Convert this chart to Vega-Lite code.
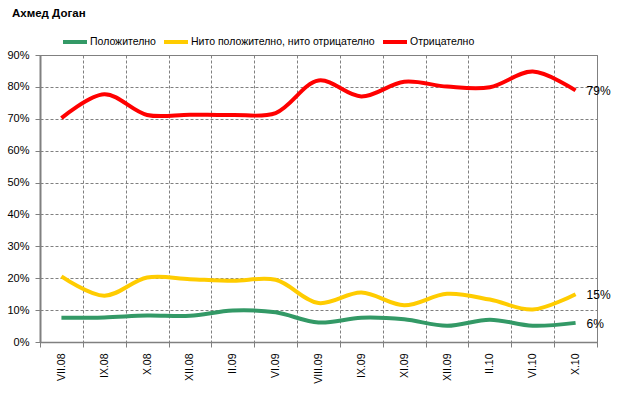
{
  "$schema": "https://vega.github.io/schema/vega-lite/v6.json",
  "autosize": "none",
  "width": 557,
  "height": 287,
  "padding": {"left": 40, "top": 55, "right": 26, "bottom": 52},
  "background": "white",
  "config": {
    "font": "Liberation Sans",
    "view": {"stroke": "#808080", "strokeWidth": 1}
  },
  "title": {
    "text": "Ахмед Доган",
    "anchor": "start",
    "frame": "group",
    "dx": -28,
    "offset": 9,
    "fontSize": 11.5,
    "fontWeight": "bold",
    "font": "Liberation Sans",
    "color": "#000000"
  },
  "data": {
    "values": [
      {"month": "VII.08", "series": "Положително", "value": 7.6},
      {"month": "IX.08", "series": "Положително", "value": 7.7},
      {"month": "X.08", "series": "Положително", "value": 8.3},
      {"month": "XII.08", "series": "Положително", "value": 8.2},
      {"month": "II.09", "series": "Положително", "value": 9.9},
      {"month": "VI.09", "series": "Положително", "value": 9.3},
      {"month": "VIII.09", "series": "Положително", "value": 6.1},
      {"month": "IX.09", "series": "Положително", "value": 7.6},
      {"month": "XI.09", "series": "Положително", "value": 7.1},
      {"month": "XII.09", "series": "Положително", "value": 5.1},
      {"month": "II.10", "series": "Положително", "value": 7.0},
      {"month": "VI.10", "series": "Положително", "value": 5.1},
      {"month": "X.10", "series": "Положително", "value": 6.0},
      {"month": "VII.08", "series": "Нито положително, нито отрицателно", "value": 20.6},
      {"month": "IX.08", "series": "Нито положително, нито отрицателно", "value": 14.5},
      {"month": "X.08", "series": "Нито положително, нито отрицателно", "value": 20.2},
      {"month": "XII.08", "series": "Нито положително, нито отрицателно", "value": 19.7},
      {"month": "II.09", "series": "Нито положително, нито отрицателно", "value": 19.2},
      {"month": "VI.09", "series": "Нито положително, нито отрицателно", "value": 19.5},
      {"month": "VIII.09", "series": "Нито положително, нито отрицателно", "value": 12.2},
      {"month": "IX.09", "series": "Нито положително, нито отрицателно", "value": 15.5},
      {"month": "XI.09", "series": "Нито положително, нито отрицателно", "value": 11.5},
      {"month": "XII.09", "series": "Нито положително, нито отрицателно", "value": 15.1},
      {"month": "II.10", "series": "Нито положително, нито отрицателно", "value": 13.3},
      {"month": "VI.10", "series": "Нито положително, нито отрицателно", "value": 10.2},
      {"month": "X.10", "series": "Нито положително, нито отрицателно", "value": 15.0},
      {"month": "VII.08", "series": "Отрицателно", "value": 70.2},
      {"month": "IX.08", "series": "Отрицателно", "value": 77.7},
      {"month": "X.08", "series": "Отрицателно", "value": 71.2},
      {"month": "XII.08", "series": "Отрицателно", "value": 71.3},
      {"month": "II.09", "series": "Отрицателно", "value": 71.2},
      {"month": "VI.09", "series": "Отрицателно", "value": 71.8},
      {"month": "VIII.09", "series": "Отрицателно", "value": 82.0},
      {"month": "IX.09", "series": "Отрицателно", "value": 77.0},
      {"month": "XI.09", "series": "Отрицателно", "value": 81.6},
      {"month": "XII.09", "series": "Отрицателно", "value": 80.1},
      {"month": "II.10", "series": "Отрицателно", "value": 79.9},
      {"month": "VI.10", "series": "Отрицателно", "value": 84.8},
      {"month": "X.10", "series": "Отрицателно", "value": 78.9}
    ]
  },
  "encoding": {
    "x": {
      "field": "month",
      "type": "ordinal",
      "sort": null,
      "bandPosition": 0.5,
      "scale": {"type": "band", "paddingInner": 0, "paddingOuter": 0},
      "axis": {
        "title": null,
        "tickBand": "extent",
        "labelAngle": -90,
        "labelAlign": "right",
        "labelBaseline": "middle",
        "labelFontSize": 10.5,
        "labelColor": "#000000",
        "labelPadding": 6,
        "tickSize": 5,
        "tickColor": "#808080",
        "domainColor": "#808080",
        "domainWidth": 1.5,
        "grid": true,
        "gridColor": "#808080",
        "gridDash": [3, 2],
        "gridWidth": 1
      }
    },
    "y": {
      "field": "value",
      "type": "quantitative",
      "scale": {"domain": [0, 90], "nice": false},
      "axis": {
        "title": null,
        "values": [0, 10, 20, 30, 40, 50, 60, 70, 80, 90],
        "labelExpr": "datum.value + '%'",
        "labelFontSize": 11,
        "labelColor": "#000000",
        "labelPadding": 6,
        "tickSize": 5,
        "tickColor": "#808080",
        "domainColor": "#808080",
        "domainWidth": 2,
        "grid": true,
        "gridColor": "#808080",
        "gridDash": [3, 2],
        "gridWidth": 1
      }
    },
    "color": {
      "field": "series",
      "type": "nominal",
      "scale": {
        "domain": ["Положително", "Нито положително, нито отрицателно", "Отрицателно"],
        "range": ["#339966", "#FFCC00", "#FF0000"]
      },
      "legend": {
        "title": null,
        "orient": "none",
        "direction": "horizontal",
        "legendX": 21,
        "legendY": -27,
        "symbolType": "stroke",
        "symbolStrokeWidth": 4,
        "symbolSize": 576,
        "labelFontSize": 10.5,
        "labelLimit": 0,
        "labelColor": "#000000",
        "labelOffset": 1,
        "columnPadding": 0
      }
    }
  },
  "layer": [
    {
      "mark": {"type": "line", "interpolate": "catmull-rom", "strokeWidth": 4}
    },
    {
      "transform": [
        {"filter": "datum.month === 'X.10'"},
        {"calculate": "format(datum.value, '.0f') + '%'", "as": "label"}
      ],
      "mark": {"type": "text", "align": "left", "baseline": "middle", "dx": 11, "dy": 1, "fontSize": 12, "color": "#000000"},
      "encoding": {
        "text": {"field": "label", "type": "nominal"},
        "color": {"value": "#000000"}
      }
    }
  ]
}
